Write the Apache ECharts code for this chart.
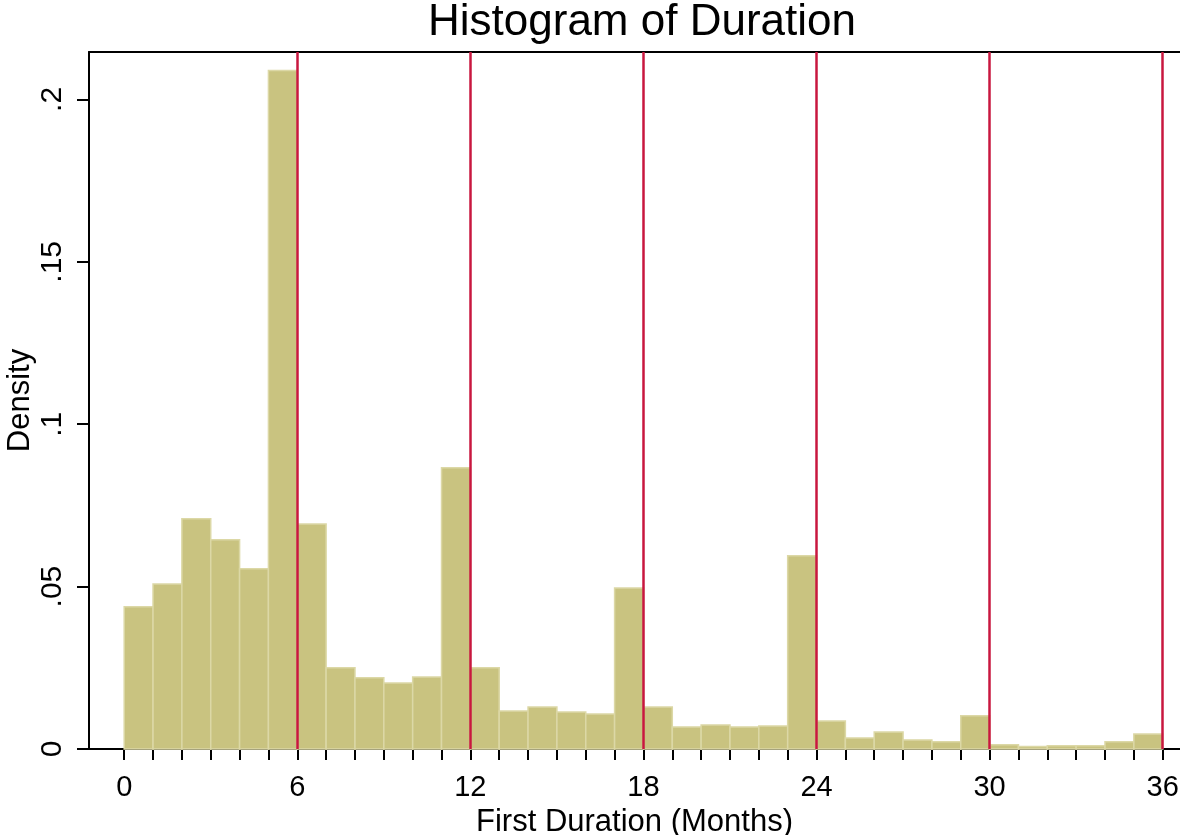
<!DOCTYPE html>
<html>
<head>
<meta charset="utf-8">
<title>Histogram of Duration</title>
<script src="https://cdn.jsdelivr.net/npm/echarts@6/dist/echarts.min.js"></script>
<style>
  html, body { margin: 0; padding: 0; background: #fff; }
  #chart { width: 1180px; height: 835px; }
</style>
</head>
<body>
<div id="chart"></div>
<script>
// bin edges (months) and density of each bin
const binEdges = [0, 1, 2, 3, 4, 5, 6, 7, 8, 9, 10, 11, 12, 13, 14, 15, 16, 17, 18,
  19, 20, 21, 22, 23, 24, 25, 26, 27, 28, 29, 30, 31, 32, 33, 34, 35, 36]
const density = [
  0.0438, 0.0508, 0.0709, 0.0644, 0.0555, 0.2089, 0.0693, 0.0250, 0.0219, 0.0203,
  0.0222, 0.0866, 0.0250, 0.0117, 0.0129, 0.0114, 0.0108, 0.0496, 0.0129, 0.0068,
  0.0074, 0.0068, 0.0071, 0.0595, 0.0086, 0.0034, 0.0052, 0.0028, 0.0022, 0.0102,
  0.0013, 0.0008, 0.0010, 0.0010, 0.0022, 0.0046
]
const xTicks = binEdges
const xLabels = [0, 6, 12, 18, 24, 30, 36]
const yTicks = [0, 0.05, 0.1, 0.15, 0.2]
const yTickLabels = ['0', '.05', '.1', '.15', '.2']
const refLines = [6, 12, 18, 24, 30, 36]

const bars = density.map((d, i) => [binEdges[i], binEdges[i + 1], d])

const font = 'Liberation Sans, Arial, sans-serif'
const chart = echarts.init(document.getElementById('chart'))

chart.setOption({
  animation: false,
  title: {
    text: 'Histogram of Duration',
    left: 637,
    textAlign: 'center',
    top: -4,
    textStyle: { fontFamily: font, fontSize: 44, fontWeight: 'normal', color: '#000' }
  },
  grid: { left: 89, right: 0, top: 52, bottom: 86, outerBoundsMode: 'none' },
  xAxis: [
    {
      type: 'value',
      min: -1.22,
      max: 36.6,
      name: 'First Duration (Months)',
      nameLocation: 'middle',
      nameGap: 54,
      nameTextStyle: { fontFamily: font, fontSize: 31, color: '#000' },
      axisLine: { show: true, onZero: false, lineStyle: { color: '#000', width: 2 } },
      axisTick: { show: true, length: 11, customValues: xTicks, lineStyle: { color: '#000', width: 2 } },
      axisLabel: { customValues: xLabels, margin: 24, fontFamily: font, fontSize: 29, color: '#000' },
      splitLine: { show: false }
    },
    {
      type: 'value',
      position: 'top',
      min: -1.22,
      max: 36.6,
      axisLine: { show: true, onZero: false, lineStyle: { color: '#000', width: 2 } },
      axisTick: { show: false },
      axisLabel: { show: false },
      splitLine: { show: false }
    }
  ],
  yAxis: {
    type: 'value',
    min: 0,
    max: 0.2146,
    name: 'Density',
    nameLocation: 'middle',
    nameGap: 53,
    nameMoveOverlap: false,
    nameTextStyle: { fontFamily: font, fontSize: 31, color: '#000' },
    axisLine: { show: true, onZero: false, lineStyle: { color: '#000', width: 2 } },
    axisTick: { show: true, length: 12, customValues: yTicks, lineStyle: { color: '#000', width: 2 } },
    axisLabel: {
      customValues: yTicks,
      rotate: 90,
      margin: 21,
      fontFamily: font,
      fontSize: 30,
      color: '#000',
      formatter: v => yTickLabels[yTicks.indexOf(v)]
    },
    splitLine: { show: false }
  },
  series: [
    {
      type: 'line',
      data: [],
      z: 1,
      markLine: {
        silent: true,
        symbol: 'none',
        label: { show: false },
        lineStyle: { color: '#c8173f', width: 2.5, type: 'solid' },
        data: refLines.map(v => ({ xAxis: v }))
      }
    },
    {
      type: 'custom',
      z: 2,
      data: bars,
      encode: { x: [0, 1], y: 2 },
      renderItem(params, api) {
        const p0 = api.coord([api.value(0), api.value(2)])
        const p1 = api.coord([api.value(1), 0])
        return {
          type: 'rect',
          shape: { x: p0[0], y: p0[1], width: p1[0] - p0[0], height: p1[1] - p0[1] },
          style: { fill: '#c9c380', stroke: '#dcd8a6', lineWidth: 1.5 }
        }
      }
    }
  ]
})
</script>
</body>
</html>
